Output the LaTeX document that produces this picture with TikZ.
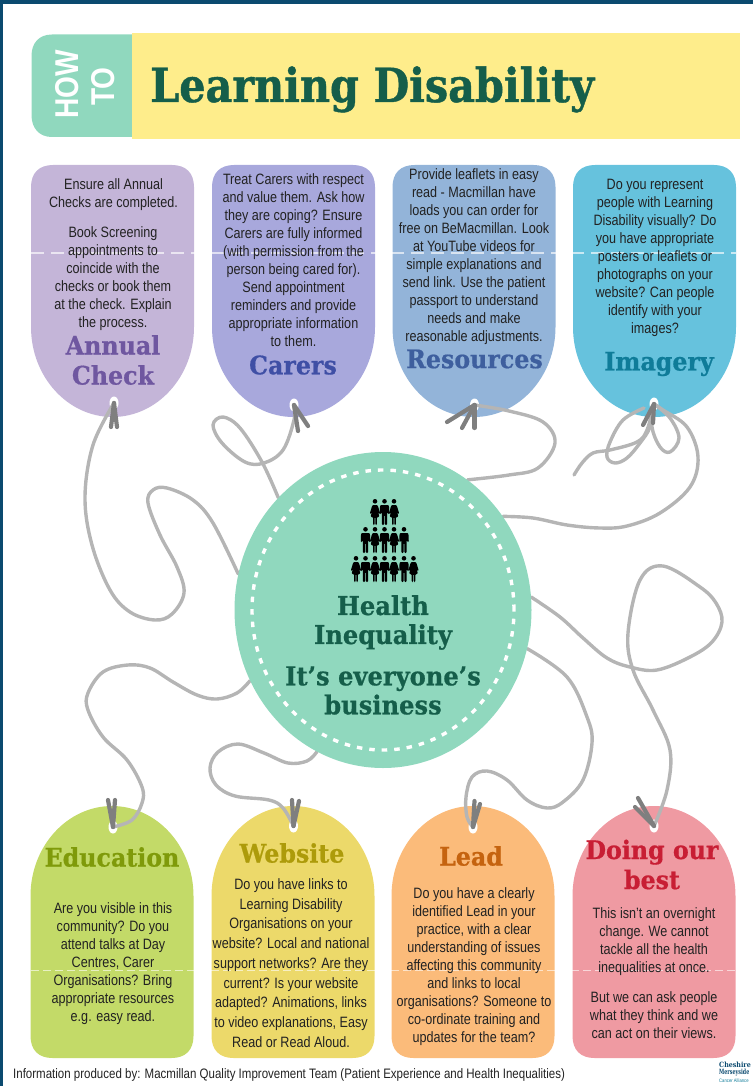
\documentclass[tikz,border=0pt]{standalone}
\usepackage{fontspec}
\setmainfont[FakeStretch=0.84]{Liberation Sans}
\newfontfamily\hd[FakeStretch=0.93,FakeBold=0.7]{DejaVu Serif}
\newfontfamily\ttl[FakeStretch=0.88,FakeBold=0.9]{DejaVu Serif}
\newfontfamily\lgf[FakeStretch=0.88]{DejaVu Serif}
\newfontfamily\lgn[FakeStretch=0.66]{DejaVu Serif}
\newfontfamily\howf[FakeStretch=0.85]{Liberation Sans}
\usetikzlibrary{shapes.geometric}
\definecolor{bar}{HTML}{0B4A6F}
\definecolor{mint}{HTML}{90D8BE}
\definecolor{sun}{HTML}{FEED8B}
\definecolor{pine}{HTML}{155E4A}
\definecolor{strg}{HTML}{B5B5B5}
\definecolor{clipc}{HTML}{7F7F7F}
\definecolor{ctA}{HTML}{C4B5D8}\definecolor{chA}{HTML}{6F57A0}
\definecolor{ctB}{HTML}{A8A8DC}\definecolor{chB}{HTML}{3F4FA5}
\definecolor{ctC}{HTML}{93B4D9}\definecolor{chC}{HTML}{3E5F9E}
\definecolor{ctD}{HTML}{66C2DD}\definecolor{chD}{HTML}{0F7C99}
\definecolor{ctE}{HTML}{C3DA68}\definecolor{chE}{HTML}{7F9A0A}
\definecolor{ctF}{HTML}{ECD96A}\definecolor{chF}{HTML}{AD9B0A}
\definecolor{ctG}{HTML}{FBBB7A}\definecolor{chG}{HTML}{C5630F}
\definecolor{ctH}{HTML}{EF9AA2}\definecolor{chH}{HTML}{C81E34}
\definecolor{txt}{HTML}{222222}
\pgfdeclarelayer{tags}\pgfdeclarelayer{strings}
\pgfsetlayers{tags,strings,main}
\newcommand\toptag[2]{\fill[#2,shift={(#1,0)}] (0,327) -- (0,187) .. controls (0,173) and (8,165) .. (22,165) -- (141,165) .. controls (155,165) and (163,173) .. (163,187) -- (163,327) .. controls (163,377) and (126,417) .. (81.5,417) .. controls (37,417) and (0,377) .. (0,327) -- cycle;}
\newcommand\bottag[2]{\fill[#2,shift={(#1,0)}] (0,896) -- (0,1036) .. controls (0,1050) and (8,1058) .. (22,1058) -- (141,1058) .. controls (155,1058) and (163,1050) .. (163,1036) -- (163,896) .. controls (163,846) and (126,806) .. (81.5,806) .. controls (37,806) and (0,846) .. (0,896) -- cycle;}
\tikzset{
  body/.style={align=center,text=txt,inner sep=0pt,font=\fontsize{15}{18}\selectfont},
  headg/.style={align=center,inner sep=0pt,font=\hd\bfseries\fontsize{25.5}{30}\selectfont},
  hubtext/.style={align=center,inner sep=0pt,text=pine,font=\hd\bfseries\fontsize{26}{29}\selectfont},
  strand/.style={draw=strg,line width=3.4pt,line cap=round,line join=round},
  peg/.style={draw=clipc,line width=4.2pt,line cap=round},
  holeb/.style={ellipse,fill=white,minimum width=9pt,minimum height=13pt,inner sep=0pt},
  foldtop/.style={draw=white,opacity=.65,line width=1.2pt,dash pattern=on 13pt off 7pt},
  foldbot/.style={draw=white,opacity=.6,line width=.8pt,dash pattern=on 8pt off 4pt},
  man/.pic={\fill[black] (0,2.3) circle (2.3);
    \fill[black,rounded corners=1pt] (-4.8,15) -- (-4.4,6) -- (4.4,6) -- (4.8,15) -- (3.2,15) -- (2.6,12) -- (2.6,26) -- (.3,26) -- (.3,16) -- (-.3,16) -- (-.3,26) -- (-2.6,26) -- (-2.6,12) -- (-3.2,15) -- cycle;},
  woman/.pic={\fill[black] (0,2.3) circle (2.3);
    \fill[black,rounded corners=1pt] (-5.2,14.5) -- (-2.6,6) -- (2.6,6) -- (5.2,14.5) -- (4,15) -- (2.6,11) -- (4.4,18) -- (1.8,18) -- (1.8,26) -- (.4,26) -- (.4,18) -- (-.4,18) -- (-.4,26) -- (-1.8,26) -- (-1.8,18) -- (-4.4,18) -- (-2.6,11) -- (-4,15) -- cycle;},
}
\begin{document}
\begin{tikzpicture}[x=1pt,y=-1pt]
\useasboundingbox (0,0) rectangle (753,1086);
\begin{pgfonlayer}{tags}
\fill[bar] (0,0) rectangle (753,4);
\fill[bar] (0,0) rectangle (3,1086);
\fill[mint] (133,34.5) -- (52,34.5) .. controls (39,34.5) and (31.5,43) .. (31.5,56) -- (31.5,115) .. controls (31.5,128) and (39,137) .. (52,137) -- (133,137) -- cycle;
\fill[sun] (132,33) rectangle (740,139);
\toptag{31}{ctA}\toptag{212}{ctB}\toptag{392.5}{ctC}\toptag{573}{ctD}
\bottag{30.5}{ctE}\bottag{211.5}{ctF}\bottag{391.5}{ctG}\bottag{572.5}{ctH}
\draw[foldtop] (31,253) -- (736,253);
\draw[foldbot] (31,970) -- (736,970);
\end{pgfonlayer}

\node[ellipse,fill=mint,minimum width=297pt,minimum height=316pt,inner sep=0pt] (hub) at (383,610) {};
\node[ellipse,draw=white,line width=3.4pt,dash pattern=on 5.5pt off 7pt,minimum width=262pt,minimum height=280pt,inner sep=0pt] (hubring) at (hub.center) {};

\begin{pgfonlayer}{strings}
\node[holeb] (hA) at (114,403) {};
\node[holeb] (hB) at (294,405) {};
\node[holeb] (hC) at (474.5,405) {};
\node[holeb] (hD) at (654,404) {};
\node[holeb] (hE) at (113,827) {};
\node[holeb] (hF) at (293.5,826) {};
\node[holeb] (hG) at (473,827) {};
\node[holeb] (hH) at (654,826) {};
\draw[strand] plot[smooth,tension=.6] coordinates {(hA.center) (93,445) (85,497) (92,545) (110,590) (130,612) (155,620) (172,614) (184,593) (177,567) (160,535) (148,503) (153,490) (167,488) (193,500) (213,523) (hub.166)};
\draw[strand] plot[smooth,tension=.6] coordinates {(hB.center) (294,420) (283,450) (264,463) (245,462) (222,443) (213,425) (223,417) (240,428) (262,462) (hub.133)};
\draw[strand] plot[smooth,tension=.6] coordinates {(hC.center) (509,411) (543,422) (555,443) (538,468) (509,475) (hub.57)};
\draw[strand] plot[smooth,tension=.6] coordinates {(hub.38) (533,518) (567,525) (600,528) (627,526) (660,513) (690,487) (698,457) (687,427) (663,410) (hD.center)};
\draw[strand] plot[smooth,tension=.6] coordinates {(hD.center) (670,418) (679,438) (670,452) (660,447) (652,427) (hD.center)};
\draw[strand] plot[smooth,tension=.6] coordinates {(hD.center) (650,427) (640,443) (627,458) (615,463) (607,457) (610,442) (623,420) (644,408)};
\draw[strand] plot[smooth,tension=.6] coordinates {(hD.center) (647,430) (637,442) (610,450) (593,453) (582,463) (574,475)};
\draw[strand] plot[smooth,tension=.6] coordinates {(hub.208) (237,693) (217,699) (197,695) (173,682) (150,668) (128,665) (103,672) (88,693) (88,710) (103,737) (127,760) (142,787) (142,803) (132,820) (hE.center)};
\draw[strand] plot[smooth,tension=.6] coordinates {(hub.245) (307,761) (288,763) (264,753) (238,744) (218,752) (210,768) (216,785) (235,796) (269,800) (283,808) (hF.center)};
\draw[strand] plot[smooth,tension=.6] coordinates {(hub.-15) (567,677) (587,717) (592,743) (583,780) (563,802) (547,808) (527,800) (507,780) (487,771) (472,777) (466,797) (467,817) (hG.center)};
\draw[strand] plot[smooth,tension=.6] coordinates {(hub.5) (560,617) (583,638) (607,658) (630,667) (657,670) (690,657) (712,642) (722,622) (716,603) (700,587) (663,566) (640,580) (628,633) (633,670) (653,710) (670,750) (667,790) (hH.center)};
\end{pgfonlayer}

% clips
\draw[peg] (hA.center) -- (111,427); \draw[peg] (hA.center) -- (117,427);
\draw[peg] (hB.center) -- (298,431); \draw[peg] (hB.center) -- (308,426);
\draw[peg] (hC.center) -- (447,422); \draw[peg] (hC.center) -- (462,428); \draw[peg] (hC.center) -- (474.5,428);
\draw[peg] (hD.center) -- (643,425); \draw[peg] (hD.center) -- (653,423);
\draw[peg] (hE.center) -- (108,800); \draw[peg] (hE.center) -- (115,800);
\draw[peg] (hF.center) -- (292,800); \draw[peg] (hF.center) -- (299,801);
\draw[peg] (hG.center) -- (474.5,801); \draw[peg] (hG.center) -- (480,804);
\draw[peg] (hH.center) -- (638,798); \draw[peg] (hH.center) -- (635,807);

% header
\node[text=white,rotate=90,inner sep=0pt,font=\howf\bfseries\fontsize{33}{33}\selectfont] (how) at (67,84) {HOW};
\node[text=white,rotate=90,inner sep=0pt,font=\howf\bfseries\fontsize{33}{33}\selectfont] (to) at (103,86.5) {TO};
\node[anchor=base west,text=pine,inner sep=0pt,font=\ttl\bfseries\fontsize{47}{50}\selectfont] (title) at (150,102) {Learning Disability};

% hub
\foreach \x/\k in {375/woman,384.5/man,394/woman} \pic at (\x,499) {\k};
\foreach \x/\k in {365.5/man,375/woman,384.5/man,394/woman,404/man} \pic at (\x,527) {\k};
\foreach \x/\k in {356/woman,365.5/man,375/woman,384.5/man,394/woman,404/man,413.5/woman} \pic at (\x,556) {\k};
\node[hubtext] (h1) at (383,622.5) {Health\\Inequality};
\node[hubtext] (h2) at (383,690.5) {It’s everyone’s\\business};

% top tags
\node[body] (tA1) at (113.5,195) {Ensure all Annual\\Checks are completed.};
\node[body] (tA2) at (113,279) {Book Screening\\appointments to\\coincide with the\\checks or book them\\at the check. Explain\\the process.};
\node[headg,text=chA] (nA) at (113,360) {Annual\\Check};
\node[body] (tB) at (293.5,260) {Treat Carers with respect\\and value them. Ask how\\they are coping? Ensure\\Carers are fully informed\\(with permission from the\\person being cared for).\\Send appointment\\reminders and provide\\appropriate information\\to them.};
\node[headg,text=chB] (nB) at (293,365) {Carers};
\node[body] (tC) at (474,257) {Provide leaflets in easy\\read - Macmillan have\\loads you can order for\\free on BeMacmillan. Look\\at YouTube videos for\\simple explanations and\\send link. Use the patient\\passport to understand\\needs and make\\reasonable adjustments.};
\node[headg,text=chC] (nC) at (474.5,359) {Resources};
\node[body] (tD) at (655,258) {Do you represent\\people with Learning\\Disability visually? Do\\you have appropriate\\posters or leaflets or\\photographs on your\\website? Can people\\identify with your\\images?};
\node[headg,text=chD] (nD) at (659,364) {Imagery};

% bottom tags
\node[headg,text=chE] (nE) at (112,857) {Education};
\node[body] (tE) at (113,963.5) {Are you visible in this\\community? Do you\\attend talks at Day\\Centres, Carer\\Organisations? Bring\\appropriate resources\\e.g. easy read.};
\node[headg,text=chF] (nF) at (292,853) {Website};
\node[body,font=\fontsize{15}{19.75}\selectfont] (tF) at (291,963) {Do you have links to\\Learning Disability\\Organisations on your\\website? Local and national\\support networks? Are they\\current? Is your website\\adapted? Animations, links\\to video explanations, Easy\\Read or Read Aloud.};
\node[headg,text=chG] (nG) at (471,856) {Lead};
\node[body] (tG) at (474,967) {Do you have a clearly\\identified Lead in your\\practice, with a clear\\understanding of issues\\affecting this community\\and links to local\\organisations? Someone to\\co-ordinate training and\\updates for the team?};
\node[headg,text=chH] (nH) at (652,864.5) {Doing our\\best};
\node[body] (tH1) at (654,942) {This isn’t an overnight\\change. We cannot\\tackle all the health\\inequalities at once.};
\node[body] (tH2) at (654,1015) {But we can ask people\\what they think and we\\can act on their views.};

% footer
\node[anchor=west,text=txt,inner sep=0pt,font=\fontsize{13.7}{16}\selectfont] (foot) at (13,1075) {Information produced by: Macmillan Quality Improvement Team (Patient Experience and Health Inequalities)};
\node[anchor=west,text=bar,inner sep=0pt,font=\lgf\bfseries\fontsize{7.2}{8}\selectfont] (lg1) at (719,1065) {Cheshire};
\node[anchor=west,text=bar,inner sep=0pt,font=\lgn\bfseries\fontsize{7.2}{8}\selectfont] (lg2) at (719,1073) {Merseyside};
\node[anchor=west,text=chD,inner sep=0pt,font=\fontsize{5}{6}\selectfont] (lg3) at (719,1081) {Cancer Alliance};
\end{tikzpicture}
\end{document}
